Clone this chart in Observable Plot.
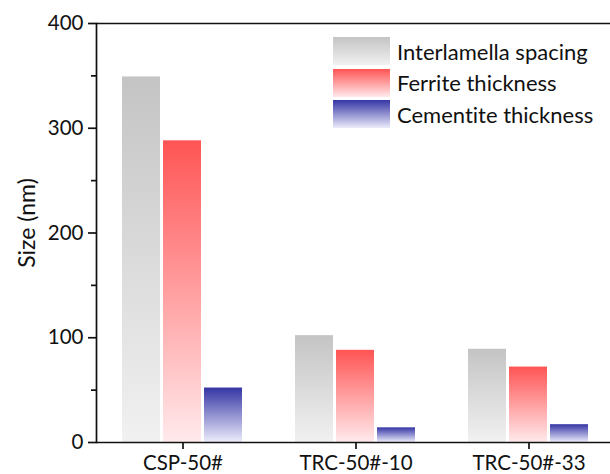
<!DOCTYPE html>
<html>
<head>
<meta charset="utf-8">
<script src="https://cdn.jsdelivr.net/npm/d3@7"></script>
<script src="https://cdn.jsdelivr.net/npm/@observablehq/plot@0.6"></script>
<style>
  html, body { margin: 0; padding: 0; background: white; overflow: hidden; }
  #wrap { position: relative; width: 610px; height: 474px; font-variant-ligatures: none; }
  .legend { position: absolute; left: 333px; top: 37px; font-family: Lato, sans-serif; font-size: 22px; color: #111; }
  .row { display: flex; align-items: center; height: 28px; margin-bottom: 3.5px; }
  .sw { width: 57px; height: 28px; margin-right: 7px; }
  .ylabel { position: absolute; left: 26px; top: 223px; transform: translate(-50%, -50%) rotate(-90deg); font-family: Lato, sans-serif; font-size: 23px; color: #111; white-space: nowrap; }
</style>
</head>
<body>
<div id="wrap"></div>
<script>
const categories = ["CSP-50#", "TRC-50#-10", "TRC-50#-33"];
const seriesNames = ["Interlamella spacing", "Ferrite thickness", "Cementite thickness"];
const interlamella = [349, 102, 89];
const ferrite = [288, 88, 72];
const cementite = [52, 14, 17];
const yTicks = [0, 100, 200, 300, 400];
const yMinorTicks = [50, 150, 250, 350];
const yLabel = "Size (nm)";

const seriesValues = [interlamella, ferrite, cementite];
const gradients = [
  {id: "g0", top: "#c4c4c4", bottom: "#f1f1f1"},
  {id: "g1", top: "#ff5454", bottom: "#ffeaec"},
  {id: "g2", top: "#3535a5", bottom: "#ececfb"}
];

const rows = [];
seriesNames.forEach((s, si) => categories.forEach((c, ci) => rows.push({cat: c, series: s, value: seriesValues[si][ci], si})));

const lw = 1.7;
const chart = Plot.plot({
  width: 610,
  height: 474,
  marginLeft: 96,
  marginRight: -5,
  marginTop: 23,
  marginBottom: 32,
  style: {fontFamily: "Lato, sans-serif", fontSize: "20.5px", color: "#111", background: "white"},
  fx: {domain: categories, padding: 0},
  x: {domain: seriesNames, paddingInner: 0.073, paddingOuter: 0.646, axis: null},
  y: {domain: [0, 400]},
  marks: [
    ...seriesNames.map((s, si) => Plot.barY(rows.filter(d => d.si === si), {fx: "cat", x: "series", y: "value", fill: `url(#${gradients[si].id})`})),
    Plot.ruleY([0, 400], {stroke: "#111", strokeWidth: lw}),
    Plot.frame({anchor: "left", facet: "super", stroke: "#111", strokeWidth: lw}),
    Plot.axisY({ticks: yTicks, tickSize: 8, tickPadding: 5, strokeWidth: lw, label: null}),
    Plot.axisY({ticks: yMinorTicks, tickSize: 5, strokeWidth: lw, text: null, label: null}),
    Plot.axisFx({anchor: "bottom", tickSize: 7, tickPadding: 6, strokeWidth: lw, label: null})
  ]
});

const svg = d3.select(chart.tagName.toLowerCase() === "svg" ? chart : chart.querySelector("svg"));
const defs = svg.insert("defs", ":first-child");
gradients.forEach(g => {
  const lg = defs.append("linearGradient").attr("id", g.id).attr("x1", 0).attr("y1", 0).attr("x2", 0).attr("y2", 1);
  lg.append("stop").attr("offset", "0%").attr("stop-color", g.top);
  lg.append("stop").attr("offset", "100%").attr("stop-color", g.bottom);
});

const wrap = document.getElementById("wrap");
wrap.appendChild(chart);

const yl = document.createElement("div");
yl.className = "ylabel";
yl.textContent = yLabel;
wrap.appendChild(yl);

const legend = document.createElement("div");
legend.className = "legend";
seriesNames.forEach((s, si) => {
  const row = document.createElement("div");
  row.className = "row";
  const sw = document.createElement("div");
  sw.className = "sw";
  sw.style.background = `linear-gradient(to bottom, ${gradients[si].top}, ${gradients[si].bottom})`;
  const t = document.createElement("span");
  t.textContent = s;
  row.appendChild(sw);
  row.appendChild(t);
  legend.appendChild(row);
});
wrap.appendChild(legend);
</script>
</body>
</html>
